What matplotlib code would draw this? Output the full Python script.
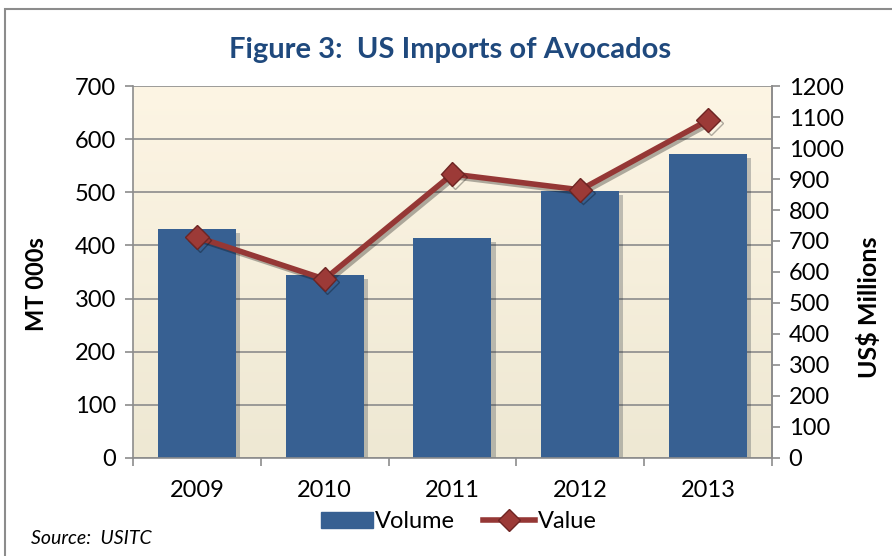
import matplotlib.pyplot as plt
import matplotlib.patheffects as pe
from matplotlib.patches import Rectangle
from matplotlib.lines import Line2D
import numpy as np

YEARS = ["2009", "2010", "2011", "2012", "2013"]
VOLUME = [431, 344, 414, 502, 572]  # MT 000s
VALUE = [713, 577, 916, 865, 1090]  # US$ Millions

BAR_COLOR = "#376092"
LINE_COLOR = "#953735"
TITLE_COLOR = "#1F497D"
FONT = ["Lato", "DejaVu Sans"]


def main():
    plt.rcParams["font.family"] = FONT
    fig = plt.figure(figsize=(8.92, 5.56), dpi=100)

    # outer frame, cut off at right and bottom like the source
    fig.patches.append(Rectangle((5 / 892, -0.2), 1.2, 1.2 - 9 / 556,
                                 transform=fig.transFigure, fill=False,
                                 edgecolor="#8c8c8c", linewidth=1.5))

    ax = fig.add_axes([0.149, 0.1763, 0.7165, 0.669])
    x_pos = np.arange(len(YEARS))

    # cream gradient background
    grad = np.linspace(1, 0, 256).reshape(-1, 1)
    top = np.array([253, 245, 228]) / 255
    bot = np.array([238, 232, 211]) / 255
    img = bot + (top - bot) * grad[..., None]
    ax.imshow(img, extent=[-0.5, 4.5, 0, 700], aspect="auto", zorder=0)

    shadow = [pe.SimplePatchShadow(offset=(3, -3), alpha=0.25), pe.Normal()]
    bars = ax.bar(x_pos, VOLUME, 0.61, color=BAR_COLOR, zorder=2,
                  label="Volume")
    for b in bars:
        b.set_path_effects(shadow)

    ax.set_xlim(-0.5, 4.5)
    ax.set_ylim(0, 700)
    ax.set_yticks(range(0, 701, 100))
    ax.grid(True, axis="y", color="#8c8c8c", linewidth=1.2, zorder=1)
    ax.set_axisbelow(True)
    ax.set_xticks(x_pos)
    ax.set_xticklabels(YEARS)
    ax.set_xticks(np.arange(-0.5, 5, 1), minor=True)
    ax.tick_params(axis="x", which="major", length=0, labelsize=17, pad=16)
    ax.tick_params(axis="x", which="minor", length=6, color="#8c8c8c",
                   width=1.2)
    ax.tick_params(axis="y", labelsize=17, length=6, color="#8c8c8c",
                   width=1.2, pad=6)
    for side in ["left", "bottom", "right", "top"]:
        ax.spines[side].set_color("#8c8c8c")
        ax.spines[side].set_linewidth(1.2)
    ax.spines["top"].set_visible(False)

    ax2 = ax.twinx()
    ax2.set_ylim(0, 1200)
    ax2.set_yticks(range(0, 1201, 100))
    line, = ax2.plot(x_pos, VALUE, color=LINE_COLOR, linewidth=4,
                     marker="D", markersize=12, markerfacecolor="#9c3a37",
                     markeredgecolor="#6e2523", markeredgewidth=1,
                     zorder=3, label="Value")
    line.set_path_effects([pe.SimpleLineShadow(offset=(2, -2), alpha=0.3),
                           pe.Normal()])
    ax2.tick_params(axis="y", labelsize=17, length=6, color="#8c8c8c",
                    width=1.2, pad=6)
    for side in ["left", "bottom", "right", "top"]:
        ax2.spines[side].set_visible(False)
    ax2.spines["right"].set_visible(True)
    ax2.spines["right"].set_color("#8c8c8c")
    ax2.spines["right"].set_linewidth(1.2)

    fig.text(37 / 892, 1 - 284 / 556, "MT 000s", rotation=90, ha="center",
             va="center", fontsize=17, fontweight="bold")
    fig.text(869 / 892, 1 - 307 / 556, "US$ Millions", rotation=90,
             ha="center", va="center", fontsize=18, fontweight="bold")

    fig.text(0.504, 0.91, "Figure 3:  US Imports of Avocados", ha="center",
             va="center", fontsize=21, fontweight="bold", color=TITLE_COLOR)

    handles = [Rectangle((0, 0), 1, 1, color=BAR_COLOR),
               Line2D([], [], color=LINE_COLOR, linewidth=4, marker="D",
                      markersize=11, markerfacecolor="#9c3a37",
                      markeredgecolor="#6e2523")]
    fig.legend(handles, ["Volume", "Value"], loc="center",
               bbox_to_anchor=(0.514, 0.062), ncol=2, frameon=False,
               fontsize=17, handlelength=2.2, handletextpad=0.1,
               columnspacing=1.2)

    fig.text(0.035, 0.032, "Source:  USITC", fontsize=14, style="italic",
             ha="left", va="center")

    fig.savefig("out.png", dpi=100)


if __name__ == "__main__":
    main()
